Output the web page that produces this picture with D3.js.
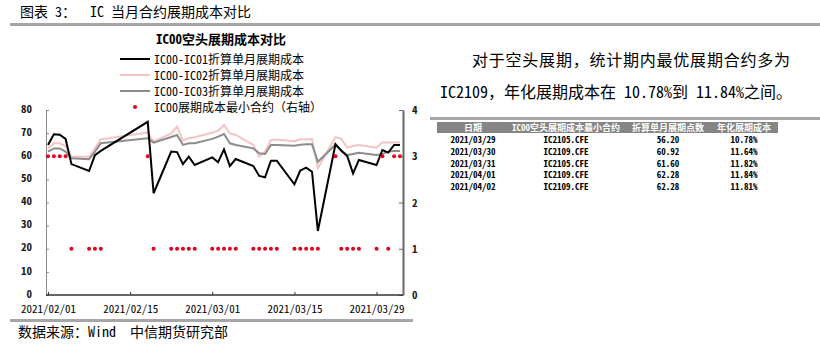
<!DOCTYPE html>
<html><head><meta charset="utf-8">
<script src="https://cdn.jsdelivr.net/npm/d3@7"></script>
<style>
html,body{margin:0;padding:0;background:#fff;}
svg{display:block;}
text{font-family:"Noto Sans Mono CJK SC","Noto Sans CJK SC",sans-serif;white-space:pre;}
</style></head>
<body>
<svg id="c" width="820" height="346"></svg>
<script>
// ---------- data ----------
const dates = ["2021-02-01","2021-02-02","2021-02-03","2021-02-04","2021-02-05",
"2021-02-08","2021-02-09","2021-02-10","2021-02-18","2021-02-19",
"2021-02-22","2021-02-23","2021-02-24","2021-02-25","2021-02-26",
"2021-03-01","2021-03-02","2021-03-03","2021-03-04","2021-03-05",
"2021-03-08","2021-03-09","2021-03-10","2021-03-11","2021-03-12",
"2021-03-15","2021-03-16","2021-03-17","2021-03-18","2021-03-19",
"2021-03-22","2021-03-23","2021-03-24","2021-03-25","2021-03-26",
"2021-03-29","2021-03-30","2021-03-31","2021-04-01","2021-04-02"];
const ic01 = [64.9,69.5,69.3,67.5,56.6, 53.6,60.5,62.3,74.9,44.0,
62.0,61.8,56.6,59.8,56.2, 59.5,57.4,63.0,55.8,58.8,
55.8,51.5,50.9,58.1,58.1, 47.9,53.8,55.1,53.3,27.7,
65.2,62.4,60.1,52.6,58.4, 56.2,62.7,61.6,64.9,64.9];
const ic02 = [63.4,65.6,65.6,64.4,59.8, 59.8,63.5,67.3,70.3,66.3,
69.9,72.8,66.7,67.8,68.2, 70.2,71.0,73.5,69.9,69.2,
64.9,59.8,62.0,67.0,67.2, 66.5,67.3,67.3,67.3,54.8,
68.2,67.5,63.7,64.4,64.9, 63.7,66.0,66.0,66.0,66.0];
const ic03 = [62.0,63.4,63.4,62.0,59.1, 58.7,62.0,65.6,67.8,65.9,
68.3,69.2,64.9,65.6,65.6, 67.5,68.5,69.6,65.6,64.9,
63.4,61.3,61.0,64.9,64.9, 64.5,65.0,65.2,65.2,57.6,
65.0,62.5,60.5,61.0,61.5, 60.5,60.92,62.0,62.28,62.28];
const minContract = [3,3,3,3,1, 1,1,1,3,1,
1,1,1,1,1, 1,1,1,1,1,
1,1,1,1,1, 1,1,1,1,1,
3,1,1,1,1, 1,3,1,3,3];
const seriesNames = ["IC00-IC01折算单月展期成本","IC00-IC02折算单月展期成本","IC00-IC03折算单月展期成本","IC00展期成本最小合约（右轴）"];
const leftTicks = [0,10,20,30,40,50,60,70,80];
const rightTicks = [0,1,2,3,4];
const xTickDates = ["2021-02-01","2021-02-15","2021-03-01","2021-03-15","2021-03-29"];
const xTickLabels = ["2021/02/01","2021/02/15","2021/03/01","2021/03/15","2021/03/29"];

const tableHeader = ["日期","IC00空头展期成本最小合约","折算单月展期点数","年化展期成本"];
const tableDates = ["2021/03/29","2021/03/30","2021/03/31","2021/04/01","2021/04/02"];
const tableContracts = ["IC2105.CFE","IC2109.CFE","IC2105.CFE","IC2109.CFE","IC2109.CFE"];
const tablePoints = ["56.20","60.92","61.60","62.28","62.28"];
const tableAnnual = ["10.78%","11.64%","11.82%","11.84%","11.81%"];

const figTitle = "图表 3：  IC 当月合约展期成本对比";
const chartTitle = "IC00空头展期成本对比";
const para1 = "对于空头展期，统计期内最优展期合约多为";
const para2 = "IC2109，年化展期成本在 10.78%到 11.84%之间。";
const source = "数据来源：Wind  中信期货研究部";

// ---------- drawing ----------
const svg = d3.select("#c");
const parse = d3.timeParse("%Y-%m-%d");
const D = dates.map(parse);

// figure title and rules
svg.append("text").attr("x",20).attr("y",17).attr("font-size",14).attr("fill","#000").text(figTitle);
svg.append("rect").attr("x",10).attr("y",23).attr("width",810).attr("height",3).attr("fill","#a6a6a6");
svg.append("rect").attr("x",10).attr("y",319).attr("width",403).attr("height",3).attr("fill","#a6a6a6");
svg.append("text").attr("x",18).attr("y",337).attr("font-size",14).attr("fill","#000").text(source);

// scales
const x = d3.scaleTime().domain([D[0], D[D.length-1]]).range([48,400]);
const yL = d3.scaleLinear().domain([0,80]).range([295,110]);
const yR = d3.scaleLinear().domain([0,4]).range([295,110]);

// axes
const gL = svg.append("g").attr("transform","translate(46,0)")
  .call(d3.axisLeft(yL).tickValues(leftTicks).tickSizeInner(-3).tickSizeOuter(0).tickPadding(14));
gL.select(".domain").attr("stroke","#888");
gL.selectAll(".tick line").attr("stroke","#888");
gL.selectAll("text").attr("font-size",11).attr("dy","0.2em").attr("font-family","Liberation Sans, Arial, sans-serif").attr("font-weight","bold").attr("fill","#1a1a1a");

const gR = svg.append("g").attr("transform","translate(403,0)")
  .call(d3.axisRight(yR).tickValues(rightTicks).tickSizeInner(-4).tickSizeOuter(0).tickPadding(9).tickFormat(d3.format("d")));
gR.select(".domain").attr("stroke","#666").attr("stroke-width",2);
gR.selectAll(".tick line").attr("stroke","#666");
gR.selectAll("text").attr("font-size",11).attr("font-family","Liberation Sans, Arial, sans-serif").attr("font-weight","bold").attr("fill","#1a1a1a");

const gX = svg.append("g").attr("transform","translate(0,295)")
  .call(d3.axisBottom(x).tickValues(xTickDates.map(parse)).tickFormat((d,i)=>xTickLabels[i]).tickSizeInner(-3).tickSizeOuter(0).tickPadding(12));
gX.select(".domain").attr("d","M46,0H403").attr("stroke","#333").attr("stroke-width",1.6);
gX.selectAll(".tick line").attr("stroke","#333");
gX.selectAll("text").attr("font-size",11).attr("dy","0.55em").attr("fill","#000");

// lines
const line = d3.line().x((d,i)=>x(D[i])).y(d=>yL(d));
const plot = svg.append("g");
plot.append("path").datum(ic02).attr("d",line).attr("fill","none").attr("stroke","#f4c4c4").attr("stroke-width",2);
plot.append("path").datum(ic03).attr("d",line).attr("fill","none").attr("stroke","#8c8c8c").attr("stroke-width",2);
plot.append("path").datum(ic01).attr("d",line).attr("fill","none").attr("stroke","#000").attr("stroke-width",2);
plot.selectAll("circle").data(minContract).join("circle")
  .attr("cx",(d,i)=>x(D[i])).attr("cy",d=>yR(d)).attr("r",2).attr("fill","#e3001b");

// chart title + legend
svg.append("text").attr("x",221).attr("y",44).attr("text-anchor","middle").attr("font-size",13).attr("font-weight","bold").attr("fill","#000").text(chartTitle);
const legY = [59,75,91,107];
const legColors = ["#000","#f4c4c4","#8c8c8c"];
seriesNames.forEach((n,i)=>{
  if(i<3){
    svg.append("line").attr("x1",120).attr("x2",150).attr("y1",legY[i]).attr("y2",legY[i]).attr("stroke",legColors[i]).attr("stroke-width",2);
  } else {
    svg.append("circle").attr("cx",135).attr("cy",legY[i]).attr("r",2).attr("fill","#e3001b");
  }
  svg.append("text").attr("x",154).attr("y",legY[i]+4.5).attr("font-size",12).attr("fill","#000").text(n);
});

// right paragraph
svg.append("text").attr("x",472).attr("y",66).attr("font-size",16).attr("fill","#000").attr("textLength",318).attr("lengthAdjust","spacing").text(para1);
svg.append("text").attr("x",440).attr("y",98).attr("font-size",16).attr("fill","#000").text(para2);
svg.append("rect").attr("x",430).attr("y",117).attr("width",390).attr("height",3).attr("fill","#a6a6a6");

// table
const colX = [473,566,668,744];
svg.append("rect").attr("x",437).attr("y",122).attr("width",341).attr("height",11).attr("fill","#858585");
tableHeader.forEach((h,i)=>{
  svg.append("text").attr("x",colX[i]).attr("y",130.8).attr("text-anchor","middle").attr("font-size",9).attr("fill","#fff").attr("font-weight","bold").text(h);
});
const rowY = [140,151.7,163.4,175.1,186.8];
tableDates.forEach((d,r)=>{
  const vals = [d, tableContracts[r], tablePoints[r], tableAnnual[r]];
  vals.forEach((v,i)=>{
    svg.append("text").attr("x",colX[i]).attr("y",rowY[r]+3.3).attr("text-anchor","middle").attr("font-size",9).attr("font-weight","bold").attr("fill","#000").text(v);
  });
});
</script>
</body></html>
